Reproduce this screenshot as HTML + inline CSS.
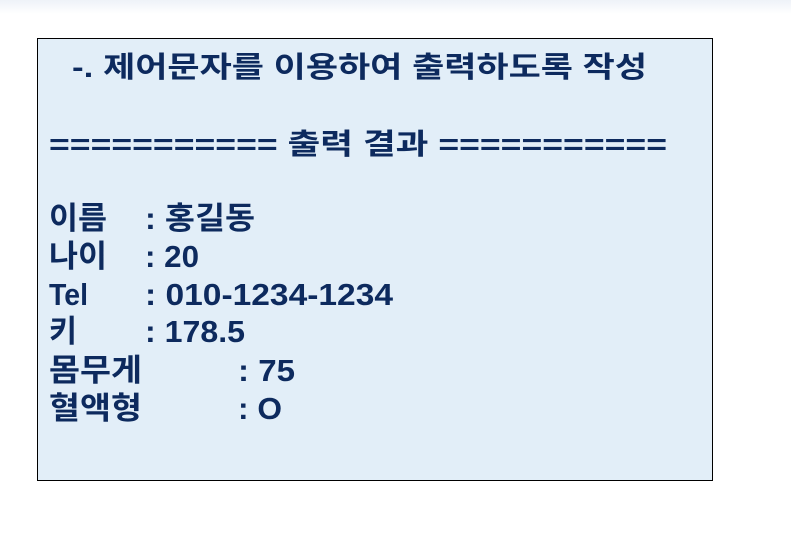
<!DOCTYPE html>
<html><head><meta charset="utf-8"><style>
html,body{margin:0;padding:0;background:#fff;width:791px;height:537px;overflow:hidden}
svg{display:block}
text{font-family:"Liberation Sans","Noto Sans CJK KR","NanumGothic",sans-serif;font-weight:bold;font-size:29px;fill:#0d2a5e}
.b{font-size:31px}
</style></head><body>
<svg width="791" height="537">
<defs><linearGradient id="tg" x1="0" y1="0" x2="0" y2="1"><stop offset="0" stop-color="#eef2f8"/><stop offset="1" stop-color="#ffffff"/></linearGradient></defs>
<rect x="0" y="0" width="791" height="14" fill="url(#tg)"/>
<rect x="37.5" y="38.5" width="675" height="442" fill="#e2eef8" stroke="#000" stroke-width="1"/>
<text x="72" y="77" textLength="575" lengthAdjust="spacingAndGlyphs">-. 제어문자를 이용하여 출력하도록 작성</text>
<text x="49" y="154" textLength="618" lengthAdjust="spacingAndGlyphs">=========== 출력 결과 ===========</text>
<text class="b" x="49" y="229" textLength="58" lengthAdjust="spacingAndGlyphs">이름</text>
<text class="b" x="145" y="229" textLength="110" lengthAdjust="spacingAndGlyphs">: 홍길동</text>
<text class="b" x="49" y="267" textLength="58" lengthAdjust="spacingAndGlyphs">나이</text>
<text class="b" x="145" y="267" textLength="54" lengthAdjust="spacingAndGlyphs">: 20</text>
<text class="b" x="49" y="305" textLength="39" lengthAdjust="spacingAndGlyphs">Tel</text>
<text class="b" x="145" y="305" textLength="248" lengthAdjust="spacingAndGlyphs">: 010-1234-1234</text>
<text class="b" x="49" y="342" textLength="28" lengthAdjust="spacingAndGlyphs">키</text>
<text class="b" x="145" y="342" textLength="100" lengthAdjust="spacingAndGlyphs">: 178.5</text>
<text class="b" x="49" y="381" textLength="93" lengthAdjust="spacingAndGlyphs">몸무게</text>
<text class="b" x="238" y="381" textLength="57" lengthAdjust="spacingAndGlyphs">: 75</text>
<text class="b" x="49" y="419" textLength="93" lengthAdjust="spacingAndGlyphs">혈액형</text>
<text class="b" x="238" y="419" textLength="44" lengthAdjust="spacingAndGlyphs">: O</text>
</svg>
</body></html>
